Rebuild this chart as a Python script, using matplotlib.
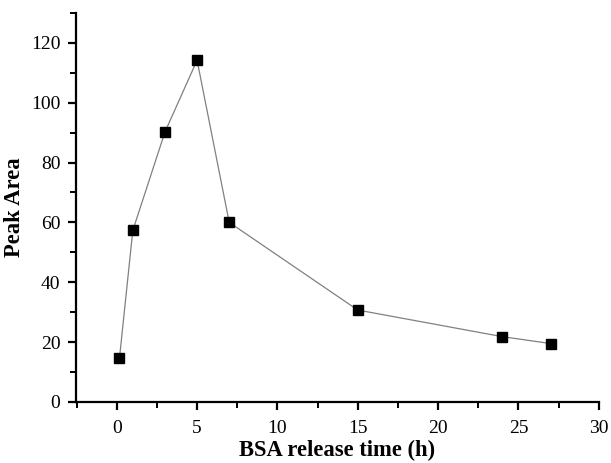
import matplotlib.pyplot as plt
from matplotlib.ticker import MultipleLocator

plt.rcParams['font.family'] = ['Liberation Serif', 'DejaVu Serif']

time_h = [0.17, 1, 3, 5, 7, 15, 24, 27]
peak_area = [14.6, 57.3, 90.2, 114.2, 60.0, 30.7, 21.8, 19.5]

fig = plt.figure(figsize=(6.11, 4.63), dpi=100)
ax = fig.add_axes([0.124, 0.132, 0.856, 0.84])

ax.plot(time_h, peak_area, color='#808080', linewidth=0.9,
        marker='s', markersize=7, markerfacecolor='black', markeredgecolor='black')

ax.set_xlim(-2.55, 30)
ax.set_ylim(0, 130)
ax.xaxis.set_major_locator(MultipleLocator(5))
ax.xaxis.set_minor_locator(MultipleLocator(2.5))
ax.yaxis.set_major_locator(MultipleLocator(20))
ax.yaxis.set_minor_locator(MultipleLocator(10))

for side in ['top', 'right']:
    ax.spines[side].set_visible(False)
for side in ['left', 'bottom']:
    ax.spines[side].set_linewidth(1.6)

ax.tick_params(which='major', direction='out', length=6, width=1.6, labelsize=14, color='black')
ax.tick_params(which='minor', direction='out', length=4, width=1.4)
ax.tick_params(axis='x', which='major', pad=7)
ax.tick_params(axis='y', which='major', pad=5)

ax.set_xlabel('BSA release time (h)', fontsize=16.3, fontweight='bold', labelpad=2)
ax.set_ylabel('Peak Area', fontsize=16.3, fontweight='bold', labelpad=4)

fig.savefig('out.png', dpi=100)
